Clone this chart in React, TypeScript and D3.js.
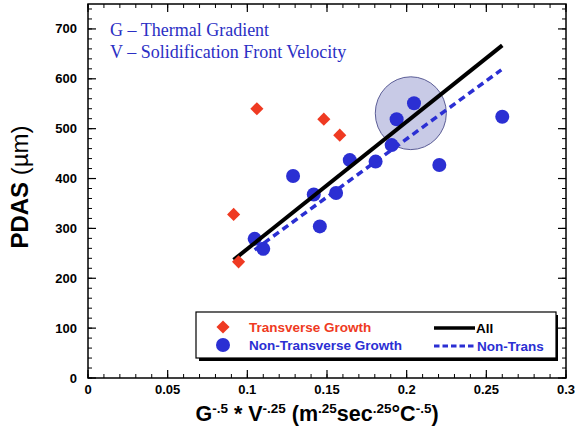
import React from 'react';
import * as d3 from 'd3';

// Transverse growth samples (red diamonds)
const transverseX = [0.0914, 0.0945, 0.106, 0.148, 0.158];
const transverseY = [328, 233, 540, 519, 487];

// Non-transverse growth samples (blue circles)
const nonTransX = [0.1046, 0.110, 0.1287, 0.1417, 0.1455, 0.1557, 0.1643, 0.1805, 0.1906, 0.1937, 0.2046, 0.2205, 0.260];
const nonTransY = [279, 259, 405, 368, 304, 371, 437, 434, 467, 519, 551, 427, 524];

// Linear fits: all samples, and non-transverse only
const fitAllX = [0.0914, 0.260];
const fitAllY = [237, 667];
const fitNonTransX = [0.1046, 0.2594];
const fitNonTransY = [257, 618];

// Highlighted cluster
const highlightX = 0.2026;
const highlightY = 531;
const highlightRx = 0.0223;
const highlightRy = 73;

// Axis ticks
const xTicks = [0, 0.05, 0.1, 0.15, 0.2, 0.25, 0.3];
const xTickLabels = ['0', '0.05', '0.1', '0.15', '0.2', '0.25', '0.3'];
const yTicks = [0, 100, 200, 300, 400, 500, 600, 700];
const yTickLabels = ['0', '100', '200', '300', '400', '500', '600', '700'];

const W = 575;
const H = 435;
const left = 88;
const right = 566;
const top = 4;
const bottom = 378;

const RED = '#ef3a22';
const BLUE = '#2b2fd3';
const TEXT_BLUE = '#2b2fc4';

export default function App() {
  const x = d3.scaleLinear().domain([0, 0.3]).range([left, right]);
  const y = d3.scaleLinear().domain([0, 750]).range([bottom, top]);

  const xMinor = d3.range(0, 0.3001, 0.01);
  const yMinor = d3.range(0, 750, 20);

  const line = d3.line<[number, number]>().x(d => x(d[0])).y(d => y(d[1]));
  const allPts: [number, number][] = fitAllX.map((v, i) => [v, fitAllY[i]]);
  const ntPts: [number, number][] = fitNonTransX.map((v, i) => [v, fitNonTransY[i]]);

  const diamond = d3.symbol().type(d3.symbolDiamond2).size(110)() as string;

  const arial = 'Liberation Sans, Arial, sans-serif';
  const times = 'Liberation Serif, Times New Roman, serif';

  return (
    <svg width={W} height={H} style={{ position: 'absolute', left: 0, top: 0, background: '#fff' }}>
      {/* highlight */}
      <ellipse
        cx={x(highlightX)}
        cy={y(highlightY)}
        rx={x(highlightRx) - x(0)}
        ry={y(0) - y(highlightRy)}
        fill="#c8cae6"
        stroke="#5b5d96"
        strokeWidth={1}
      />

      {/* non-transverse points */}
      {nonTransX.map((v, i) => (
        <circle key={'n' + i} cx={x(v)} cy={y(nonTransY[i])} r={7} fill={BLUE} />
      ))}

      {/* fits */}
      <path d={line(allPts) as string} stroke="#000" strokeWidth={4} fill="none" />
      <path d={line(ntPts) as string} stroke={BLUE} strokeWidth={3.5} strokeDasharray="7,4.5" fill="none" />

      {/* transverse points */}
      {transverseX.map((v, i) => (
        <path key={'t' + i} d={diamond} transform={`translate(${x(v)},${y(transverseY[i])})`} fill={RED} />
      ))}

      {/* frame */}
      <rect x={left} y={top} width={right - left} height={bottom - top} fill="none" stroke="#000" strokeWidth={1.5} />

      {/* x ticks (bottom and top, inward) */}
      {xMinor.map((v, i) => (
        <g key={'xm' + i}>
          <line x1={x(v)} x2={x(v)} y1={bottom} y2={bottom - 4} stroke="#000" strokeWidth={1} />
          <line x1={x(v)} x2={x(v)} y1={top} y2={top + 4} stroke="#000" strokeWidth={1} />
        </g>
      ))}
      {xTicks.map((v, i) => (
        <g key={'xM' + i}>
          <line x1={x(v)} x2={x(v)} y1={bottom} y2={bottom - 8} stroke="#000" strokeWidth={1.2} />
          <line x1={x(v)} x2={x(v)} y1={top} y2={top + 8} stroke="#000" strokeWidth={1.2} />
          <text x={x(v)} y={394} textAnchor="middle" fontFamily={arial} fontWeight="bold" fontSize={13} fill="#000">
            {xTickLabels[i]}
          </text>
        </g>
      ))}

      {/* y ticks (left and right, inward) */}
      {yMinor.map((v, i) => (
        <g key={'ym' + i}>
          <line x1={left} x2={left + 4} y1={y(v)} y2={y(v)} stroke="#000" strokeWidth={1} />
          <line x1={right} x2={right - 4} y1={y(v)} y2={y(v)} stroke="#000" strokeWidth={1} />
        </g>
      ))}
      {yTicks.map((v, i) => (
        <g key={'yM' + i}>
          <line x1={left} x2={left + 8} y1={y(v)} y2={y(v)} stroke="#000" strokeWidth={1.2} />
          <line x1={right} x2={right - 8} y1={y(v)} y2={y(v)} stroke="#000" strokeWidth={1.2} />
          <text x={77} y={y(v) + 4.5} textAnchor="end" fontFamily={arial} fontWeight="bold" fontSize={13} fill="#000">
            {yTickLabels[i]}
          </text>
        </g>
      ))}

      {/* annotation */}
      <text x={110} y={36} fontFamily={times} fontSize={18} fill={TEXT_BLUE}>G – Thermal Gradient</text>
      <text x={110} y={58} fontFamily={times} fontSize={18} fill={TEXT_BLUE}>V – Solidification Front Velocity</text>

      {/* legend */}
      <rect x={199} y={315} width={359} height={46} fill="#000" />
      <rect x={196} y={312} width={360} height={46} fill="#fff" stroke="#000" strokeWidth={1.2} />
      <path d={diamond} transform="translate(223,327)" fill={RED} />
      <text x={249} y={332} fontFamily={arial} fontWeight="bold" fontSize={13.5} fill={RED}>Transverse Growth</text>
      <circle cx={223} cy={345} r={7} fill={BLUE} />
      <text x={249} y={350} fontFamily={arial} fontWeight="bold" fontSize={13.5} fill={BLUE}>Non-Transverse Growth</text>
      <line x1={434} x2={475} y1={328} y2={328} stroke="#000" strokeWidth={3.5} />
      <text x={476} y={333} fontFamily={arial} fontWeight="bold" fontSize={13.5} fill="#000">All</text>
      <line x1={434} x2={475} y1={346} y2={346} stroke={BLUE} strokeWidth={3} strokeDasharray="5.5,3" />
      <text x={477} y={351} fontFamily={arial} fontWeight="bold" fontSize={13.5} fill={BLUE}>Non-Trans</text>

      {/* axis titles */}
      <text x={317} y={421} textAnchor="middle" fontFamily={arial} fontWeight="bold" fontSize={21.5} fill="#000">
        G<tspan dy={-8} fontSize={13.5}>-.5</tspan>
        <tspan dy={8}> * V</tspan>
        <tspan dy={-8} fontSize={13.5}>-.25</tspan>
        <tspan dy={8}> (m</tspan>
        <tspan dy={-8} fontSize={13.5}>.25</tspan>
        <tspan dy={8}>sec</tspan>
        <tspan dy={-8} fontSize={13.5}>.25</tspan>
        <tspan dy={8}>°C</tspan>
        <tspan dy={-8} fontSize={13.5}>-.5</tspan>
        <tspan dy={8}>)</tspan>
      </text>
      <text transform="translate(28,187) rotate(-90)" textAnchor="middle" fontFamily={arial} fontSize={24} fill="#000">
        <tspan fontWeight="bold">PDAS</tspan> (µm)
      </text>
    </svg>
  );
}
